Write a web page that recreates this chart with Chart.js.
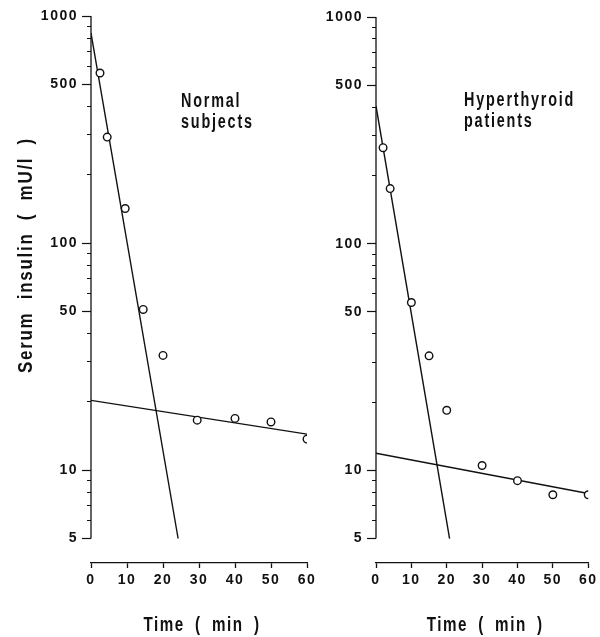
<!DOCTYPE html>
<html>
<head>
<meta charset="utf-8">
<script src="https://cdn.jsdelivr.net/npm/chart.js@4.4.1/dist/chart.umd.min.js"></script>
<style>
  body { margin: 0; background: #fff; }
  #wrap { position: relative; width: 600px; height: 637px; overflow: hidden; }
  canvas { position: absolute; top: 0; }
</style>
</head>
<body>
<div id="wrap">
  <canvas id="normal" width="320" height="637" style="left:0"></canvas>
  <canvas id="hyper" width="300" height="637" style="left:300px"></canvas>
</div>
<script>
// sampling times (min) and serum insulin (mU/l)
const timeNormal = [2.5, 4.5, 9.5, 14.5, 20, 29.5, 40, 50, 60];
const insulinNormal = [561, 293, 142, 51, 32, 16.6, 16.9, 16.3, 13.7];
const timeHyper = [2, 4, 10, 15, 20, 30, 40, 50, 60];
const insulinHyper = [265, 175, 55, 32, 18.4, 10.5, 9.0, 7.8, 7.8];

// fitted fast / slow components, two end points each
const fastNormalX = [0, 24.2];
const fastNormalY = [841, 5];
const slowNormalX = [0, 60];
const slowNormalY = [20.3, 14.4];
const fastHyperX = [0, 20.8];
const fastHyperY = [405, 5];
const slowHyperX = [0, 60];
const slowHyperY = [11.9, 7.9];

// axis ticks
const yTicks = [5, 6, 7, 8, 9, 10, 20, 30, 40, 50, 60, 70, 80, 90, 100,
  200, 300, 400, 500, 600, 700, 800, 900, 1000];
const yLabels = [5, 10, 50, 100, 500, 1000];
const xTicks = [0, 10, 20, 30, 40, 50, 60];

const FONT = "'Liberation Sans', Arial, sans-serif";
const INK = "#111";

function pts(xs, ys) {
  return xs.map((x, i) => ({ x, y: ys[i] }));
}

// condensed, letter-spaced bold text like the old typewriter lettering
function drawText(ctx, text, x, y, st) {
  ctx.save();
  ctx.translate(x, y);
  if (st.rotate) ctx.rotate(st.rotate);
  ctx.scale(st.k, 1);
  ctx.fillStyle = INK;
  ctx.font = "bold " + st.size + "px " + FONT;
  ctx.letterSpacing = st.ls + "px";
  ctx.wordSpacing = st.ws + "px";
  ctx.textAlign = st.align || "left";
  ctx.textBaseline = st.baseline || "alphabetic";
  ctx.fillText(text, 0, 0);
  ctx.restore();
}

const captionStyle = { size: 20, k: 0.72, ls: 2.5, ws: 0 };
const xTitleStyle = { size: 20, k: 0.76, ls: 2, ws: 6, align: "center", baseline: "middle" };
const yTitleStyle = { size: 20, k: 0.85, ls: 2, ws: 7, align: "center", baseline: "middle", rotate: -Math.PI / 2 };

// y axis line (only 5..1000), captions and axis titles
const decor = {
  id: "decor",
  beforeDraw(chart) {
    chart.ctx.letterSpacing = "1.5px";
  },
  afterDraw(chart, args, o) {
    const ctx = chart.ctx;
    const y = chart.scales.y;
    const area = chart.chartArea;
    ctx.save();
    ctx.strokeStyle = INK;
    ctx.lineWidth = 1.3;
    ctx.beginPath();
    ctx.moveTo(area.left, y.getPixelForValue(1000));
    ctx.lineTo(area.left, y.getPixelForValue(5));
    ctx.stroke();
    ctx.restore();

    o.label.forEach((line, i) =>
      drawText(ctx, line, o.labelX, o.labelY + i * 21, captionStyle));
    drawText(ctx, "Time ( min )", (area.left + area.right) / 2 + 3, 625, xTitleStyle);
    if (o.yTitle) drawText(ctx, o.yTitle, o.yTitleX, o.yTitleY, yTitleStyle);
  }
};

function makeChart(id, cfg) {
  const lineStyle = {
    type: "line",
    showLine: true,
    borderColor: INK,
    borderWidth: 1.4,
    pointRadius: 0,
    fill: false
  };
  return new Chart(document.getElementById(id), {
    type: "scatter",
    data: {
      datasets: [
        {
          data: pts(cfg.times, cfg.values),
          pointStyle: "circle",
          pointRadius: 3.8,
          borderWidth: 1.4,
          borderColor: INK,
          backgroundColor: "#fff"
        },
        { ...lineStyle, data: pts(cfg.fastX, cfg.fastY) },
        { ...lineStyle, data: pts(cfg.slowX, cfg.slowY) }
      ]
    },
    options: {
      responsive: false,
      animation: false,
      layout: { padding: { top: cfg.top, left: 0, right: cfg.right, bottom: 0 } },
      plugins: {
        legend: { display: false },
        tooltip: { enabled: false },
        decor: cfg.decor
      },
      scales: {
        x: {
          type: "linear",
          min: 0,
          max: 60,
          afterBuildTicks: (s) => { s.ticks = xTicks.map((v) => ({ value: v })); },
          afterFit: (s) => { s.height = 74; },
          grid: { drawOnChartArea: false, tickLength: 5, tickColor: INK, tickWidth: 1.3 },
          border: { display: true, color: INK, width: 1.3 },
          ticks: { color: INK, padding: 4, font: { family: FONT, size: 14, weight: "bold" } }
        },
        y: {
          type: "logarithmic",
          min: 3.9,
          max: 1000,
          afterBuildTicks: (s) => { s.ticks = yTicks.map((v) => ({ value: v })); },
          afterFit: (s) => { s.width = cfg.yWidth; },
          grid: {
            drawOnChartArea: false,
            tickLength: 9,
            tickColor: INK,
            tickWidth: 1.2,
            tickBorderDash: (c) => (c.tick && yLabels.includes(c.tick.value) ? [] : [0, 5, 4, 30])
          },
          border: { display: false },
          ticks: {
            color: INK,
            padding: 4,
            autoSkip: false,
            font: { family: FONT, size: 14, weight: "bold" },
            callback: (v) => (yLabels.includes(v) ? String(v) : "")
          }
        }
      }
    },
    plugins: [decor]
  });
}

makeChart("normal", {
  times: timeNormal, values: insulinNormal,
  fastX: fastNormalX, fastY: fastNormalY,
  slowX: slowNormalX, slowY: slowNormalY,
  top: 16, right: 13, yWidth: 91,
  decor: {
    label: ["Normal", "subjects"], labelX: 181, labelY: 107,
    yTitle: "Serum insulin ( mU/l )", yTitleX: 26, yTitleY: 255
  }
});

makeChart("hyper", {
  times: timeHyper, values: insulinHyper,
  fastX: fastHyperX, fastY: fastHyperY,
  slowX: slowHyperX, slowY: slowHyperY,
  top: 17, right: 8, yWidth: 76,
  decor: { label: ["Hyperthyroid", "patients"], labelX: 164, labelY: 106 }
});
</script>
</body>
</html>
